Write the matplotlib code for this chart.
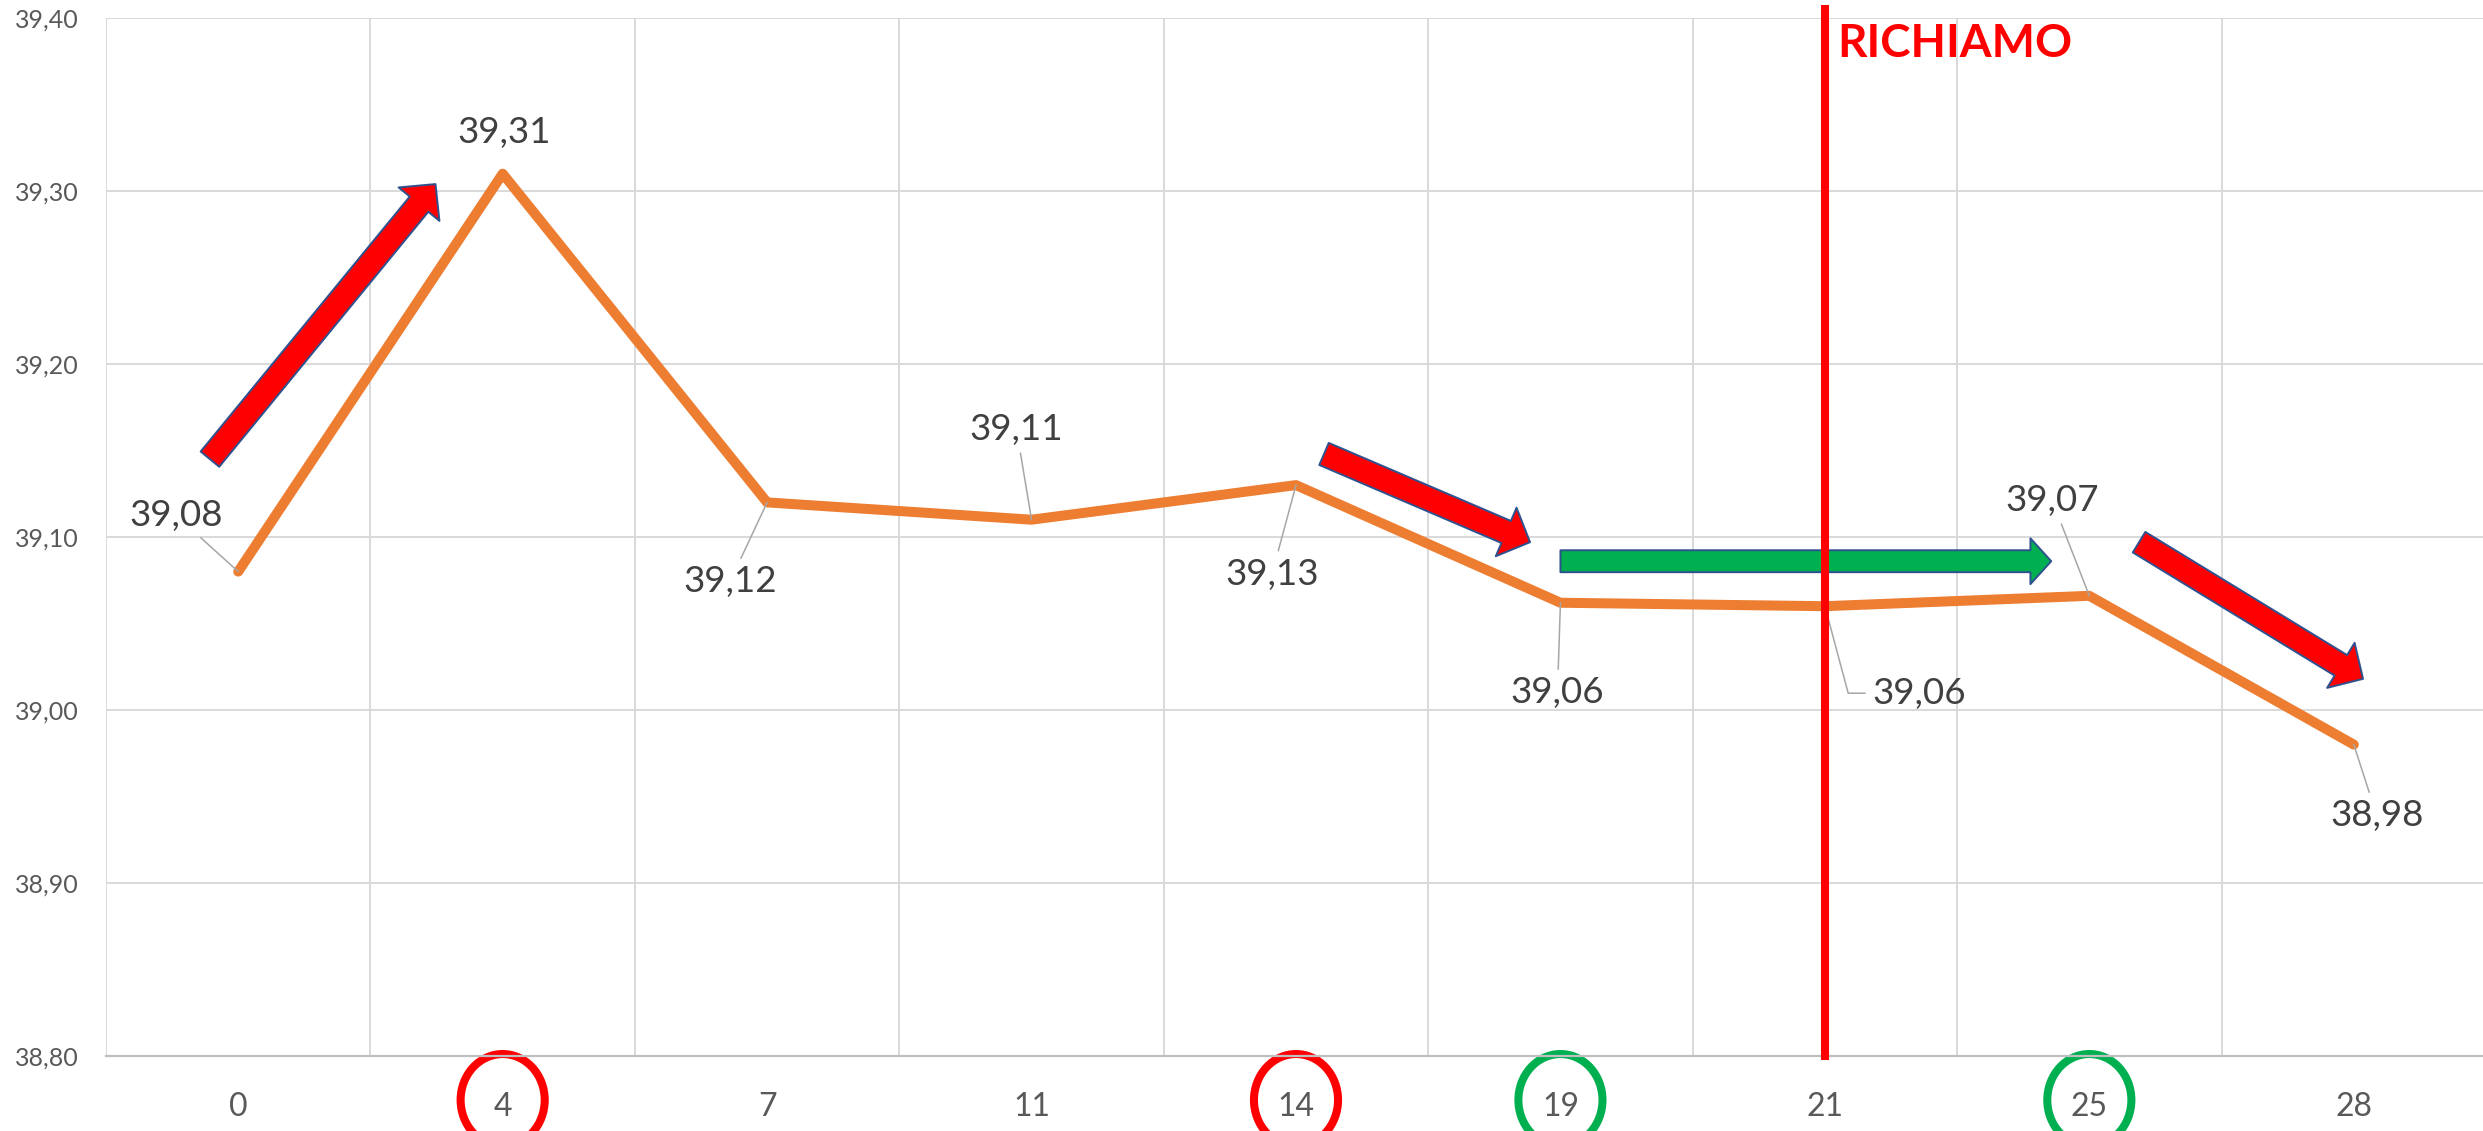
import numpy as np
import matplotlib
matplotlib.use("Agg")
import matplotlib.pyplot as plt
import matplotlib.transforms as mtransforms
from matplotlib.patches import Ellipse, FancyArrowPatch

# --- data ---
days = ['0', '4', '7', '11', '14', '19', '21', '25', '28']
temps = [39.08, 39.31, 39.12, 39.11, 39.13, 39.062, 39.06, 39.066, 38.98]
red_marked = ['4', '14']
green_marked = ['19', '25']
recall_day = '21'
recall_label = 'RICHIAMO'

# block arrows drawn on top of the chart: (start, end, colour)
arrows = [
    ((-0.107, 39.145), (0.746, 39.304), 'red'),
    ((4.106, 39.148), (4.885, 39.097), 'red'),
    ((5.00, 39.086), (6.856, 39.086), 'green'),
    ((7.188, 39.097), (8.035, 39.018), 'red'),
]

# data label offsets in pixels (dx, dy up)
label_offsets = [(-62, 56), (1, 41), (-37, -79), (-15, 90), (-24, -89),
                 (-3, -90), (94, -87), (-37, 95), (23, -71)]

ORANGE = '#ED7D31'
RED = '#FF0000'
GREEN = '#00B050'
GRID = '#D9D9D9'
TICK = '#595959'

plt.rcParams['font.family'] = ['Lato', 'DejaVu Sans']

fig = plt.figure(figsize=(24.83, 11.31), dpi=100)
ax = fig.add_axes([106 / 2483, 75 / 1131, 2380 / 2483, 1038 / 1131])

x = np.arange(len(days))
ax.plot(x, temps, color=ORANGE, lw=7.2, solid_capstyle='round',
        solid_joinstyle='round', zorder=3)

ax.set_xlim(-0.5, len(days) - 0.5)
ax.set_ylim(38.8, 39.4)
yt = np.round(np.arange(38.8, 39.41, 0.1), 2)
ax.set_yticks(yt, [f'{v:.2f}'.replace('.', ',') for v in yt])
ax.set_xticks(x, days)
ax.set_xticks(np.arange(-0.5, len(days), 1), minor=True)
ax.grid(axis='x', which='minor', color=GRID, lw=1.4)
ax.grid(axis='y', which='major', color=GRID, lw=1.4)
ax.set_axisbelow(True)
ax.tick_params(which='both', length=0)
ax.tick_params(axis='y', pad=20, labelsize=18, labelcolor=TICK)
ax.tick_params(axis='x', pad=26, labelsize=23, labelcolor=TICK)
for s in ['top', 'right', 'left']:
    ax.spines[s].set_visible(False)
ax.spines['bottom'].set_color('#BFBFBF')
ax.spines['bottom'].set_linewidth(1.6)

# data labels with leader lines
for i, (v, off) in enumerate(zip(temps, label_offsets)):
    txt = f'{v:.2f}'.replace('.', ',')
    props = None
    if i != 1:
        props = dict(arrowstyle='-', color='#A6A6A6', lw=1.1, shrinkA=3, shrinkB=0)
        if days[i] == recall_day:
            props['connectionstyle'] = 'angle,angleA=0,angleB=-75,rad=0'
    ax.annotate(txt, (i, v), xytext=off, textcoords='offset pixels',
                ha='center', va='center', fontsize=26.5, color='#404040',
                arrowprops=props, zorder=5)

# block arrows
styles = {
    'red': (RED, 'simple,head_length=18.7,head_width=38,tail_width=17.3'),
    'green': (GREEN, 'simple,head_length=15,head_width=33,tail_width=15.8'),
}
for p0, p1, key in arrows:
    col, st = styles[key]
    ax.add_patch(FancyArrowPatch(p0, p1, arrowstyle=st, mutation_scale=1,
                                 fc=col, ec='#2F528F', lw=1.4,
                                 shrinkA=0, shrinkB=0, zorder=4))

# recall marker
trans = mtransforms.blended_transform_factory(ax.transData, ax.transAxes)
xr = days.index(recall_day)
ax.plot([xr, xr], [0, 1.009], transform=trans, color=RED, lw=5.8,
        clip_on=False, zorder=6)
ax.text(xr + 12 / 264.5, 0.975, recall_label, transform=trans, ha='left',
        va='center', fontsize=33, fontweight='bold', color=RED, zorder=6)

# circled tick labels
for names, col in [(red_marked, RED), (green_marked, GREEN)]:
    for d in names:
        ax.add_patch(Ellipse((days.index(d), -0.0424), 0.318, 0.0886,
                             transform=trans, fill=False, ec=col, lw=5.8,
                             clip_on=False))

fig.savefig('out.png', dpi=100)
